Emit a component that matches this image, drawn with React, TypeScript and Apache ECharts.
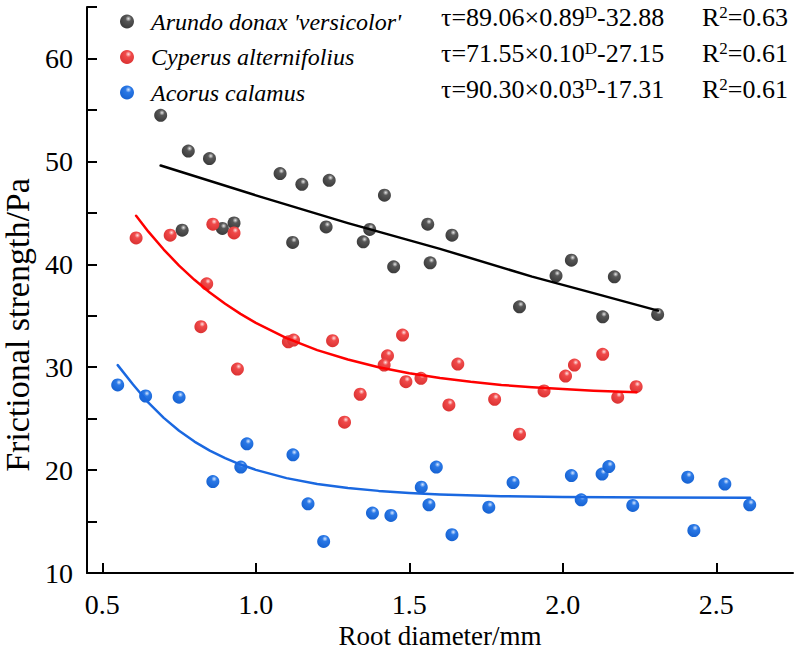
import React, { useEffect, useRef } from "react";
import * as echarts from "echarts";

// ---- Data ----
const seriesNames = ["Arundo donax 'versicolor'", "Cyperus alternifolius", "Acorus calamus"];

const arundoPoints: number[][] = [
  [0.69, 54.47], [0.78, 51.0], [0.849, 50.27], [1.079, 48.81], [1.15, 47.77], [1.239, 48.16],
  [1.419, 46.71], [0.76, 43.31], [0.891, 43.48], [0.929, 44.02], [1.12, 42.12], [1.229, 43.63],
  [1.371, 43.38], [1.35, 42.18], [1.449, 39.75], [1.56, 43.89], [1.568, 40.14], [1.639, 42.83],
  [2.028, 40.4], [1.978, 38.88], [2.168, 38.78], [1.859, 35.87], [2.13, 34.9], [2.309, 35.13],
];
const cyperusPoints: number[][] = [
  [0.61, 42.56], [0.721, 42.83], [0.86, 43.89], [0.929, 43.05], [0.84, 38.1], [0.821, 33.93],
  [0.94, 29.82], [1.106, 32.47], [1.123, 32.64], [1.25, 32.57], [1.478, 33.12], [1.429, 31.11],
  [1.418, 30.21], [1.489, 28.59], [1.538, 28.92], [1.658, 30.3], [1.34, 27.37], [1.289, 24.65],
  [1.629, 26.33], [1.778, 26.88], [1.859, 23.49], [1.939, 27.69], [2.009, 29.14], [2.038, 30.21],
  [2.13, 31.25], [2.179, 27.08], [2.239, 28.11],
];
const acorusPoints: number[][] = [
  [0.55, 28.27], [0.641, 27.2], [0.75, 27.08], [0.971, 22.55], [1.121, 21.48], [0.951, 20.29],
  [0.86, 18.89], [1.17, 16.72], [1.221, 13.07], [1.38, 15.82], [1.44, 15.59], [1.539, 18.34],
  [1.564, 16.63], [1.588, 20.29], [1.639, 13.72], [1.759, 16.4], [1.838, 18.79], [2.028, 19.47],
  [2.06, 17.11], [2.128, 19.61], [2.15, 20.34], [2.228, 16.56], [2.407, 19.31], [2.427, 14.13],
  [2.528, 18.64], [2.609, 16.63],
];

// fitted curves
const arundoFitX = [0.69, 1.0, 1.3, 1.6, 1.9, 2.1, 2.31];
const arundoFitY = [49.6, 46.7, 44.0, 41.5, 38.8, 37.2, 35.5];
const cyperusFitX = [0.61, 0.65, 0.7, 0.75, 0.8, 0.85, 0.9, 0.95, 1.0, 1.1, 1.2, 1.3, 1.4, 1.5, 1.6, 1.7, 1.8, 1.9, 2.0, 2.1, 2.24];
const cyperusFitY = [44.71, 43.17, 41.43, 39.87, 38.49, 37.26, 36.16, 35.18, 34.31, 32.83, 31.66, 30.74, 30.0, 29.41, 28.95, 28.58, 28.28, 28.05, 27.87, 27.72, 27.56];
const acorusFitX = [0.55, 0.6, 0.65, 0.7, 0.75, 0.8, 0.85, 0.9, 0.95, 1.0, 1.1, 1.2, 1.3, 1.4, 1.5, 1.6, 1.8, 2.0, 2.3, 2.61];
const acorusFitY = [30.2, 28.32, 26.55, 25.07, 23.82, 22.77, 21.89, 21.16, 20.54, 20.02, 19.22, 18.65, 18.26, 17.98, 17.78, 17.64, 17.47, 17.39, 17.34, 17.32];

// equation labels
const equations = [
  { base: "τ=89.06×0.89", exp: "D", tail: "-32.88", r2: "0.63" },
  { base: "τ=71.55×0.10", exp: "D", tail: "-27.15", r2: "0.61" },
  { base: "τ=90.30×0.03", exp: "D", tail: "-17.31", r2: "0.61" },
];

const xTicks = [0.5, 1.0, 1.5, 2.0, 2.5];

const FONT = "'Liberation Serif', 'Times New Roman', serif";

const ball = (light: string, mid: string, dark: string) =>
  new echarts.graphic.RadialGradient(0.6, 0.3, 0.75, [
    { offset: 0, color: light },
    { offset: 0.28, color: mid },
    { offset: 1, color: dark },
  ]);

export default function App() {
  const ref = useRef<HTMLDivElement>(null);

  useEffect(() => {
    if (!ref.current) return;
    const chart = echarts.init(ref.current, undefined, { renderer: "svg" });

    const zip = (xs: number[], ys: number[]) => xs.map((x, i) => [x, ys[i]]);
    const colors = [
      { ball: ball("#e6e6e6", "#575757", "#383838"), line: "#000000" },
      { ball: ball("#ffe0e0", "#f04a4a", "#d93030"), line: "#ff0000" },
      { ball: ball("#d8e8ff", "#2a78e6", "#1460d0"), line: "#1a68e0" },
    ];
    const pts = [arundoPoints, cyperusPoints, acorusPoints];
    const fits = [zip(arundoFitX, arundoFitY), zip(cyperusFitX, cyperusFitY), zip(acorusFitX, acorusFitY)];

    const scatterSeries = seriesNames.map((name, i) => ({
      name,
      type: "scatter",
      data: pts[i],
      symbol: "circle",
      symbolSize: 13,
      itemStyle: { color: colors[i].ball, opacity: 1 },
      z: 2,
    }));
    const lineSeries = seriesNames.map((name, i) => ({
      name: name + " fit",
      type: "line",
      data: fits[i],
      smooth: false,
      symbol: "none",
      lineStyle: { color: colors[i].line, width: 2.5, join: "round", cap: "round" },
      z: 3,
    }));

    const rowY = [17, 53, 89];
    const rich = {
      m: { fontFamily: FONT, fontSize: 26, color: "#000" },
      s: { fontFamily: FONT, fontSize: 17, color: "#000", verticalAlign: "top" },
    };
    const graphics: any[] = [];
    equations.forEach((e, i) => {
      graphics.push({
        type: "text",
        x: 441,
        y: rowY[i],
        style: {
          text: `{m|${e.base}}{s|${e.exp}}{m|${e.tail}}`,
          rich,
          verticalAlign: "middle",
          align: "left",
        },
      });
      graphics.push({
        type: "text",
        x: 788,
        y: rowY[i],
        style: {
          text: `{m|R}{s|2}{m|=${e.r2}}`,
          rich,
          verticalAlign: "middle",
          align: "right",
        },
      });
    });

    chart.setOption({
      animation: false,
      backgroundColor: "#ffffff",
      grid: { left: 87, right: 2, top: 7, bottom: 83, containLabel: false, outerBoundsMode: "none" },
      legend: {
        data: seriesNames,
        orient: "vertical",
        left: 115,
        top: 3,
        itemWidth: 38,
        itemHeight: 14,
        itemGap: 8.5,
        icon: "circle",
        textStyle: { fontFamily: FONT, fontStyle: "italic", fontSize: 24, color: "#000", lineHeight: 27 },
      },
      xAxis: {
        type: "value",
        min: 0.45,
        max: 2.75,
        name: "Root diameter/mm",
        nameLocation: "middle",
        nameGap: 46,
        nameTextStyle: { fontFamily: FONT, fontSize: 27, color: "#000" },
        axisLine: { show: true, lineStyle: { color: "#000", width: 2 } },
        axisTick: { show: true, inside: true, length: 10, lineStyle: { color: "#000", width: 2 }, customValues: xTicks },
        axisLabel: {
          fontFamily: FONT,
          fontSize: 28,
          color: "#000",
          margin: 17,
          customValues: xTicks,
          formatter: (v: number) => v.toFixed(1),
        },
        splitLine: { show: false },
      },
      yAxis: {
        type: "value",
        min: 10,
        max: 65,
        interval: 5,
        name: "Frictional strength/Pa",
        nameLocation: "middle",
        nameGap: 51,
        nameTextStyle: { fontFamily: FONT, fontSize: 34, color: "#000", padding: [0, 70, 0, 0] },
        axisLine: { show: true, lineStyle: { color: "#000", width: 2 } },
        axisTick: { show: true, inside: true, length: 10, lineStyle: { color: "#000", width: 2 } },
        axisLabel: {
          fontFamily: FONT,
          fontSize: 28,
          color: "#000",
          margin: 14,
          formatter: (v: number) => (v % 10 === 0 ? String(v) : ""),
        },
        splitLine: { show: false },
      },
      graphic: graphics,
      series: [...scatterSeries, ...lineSeries],
    } as any);

    return () => chart.dispose();
  }, []);

  return <div ref={ref} style={{ width: 795, height: 656, position: "absolute", left: 0, top: 0 }} />;
}
